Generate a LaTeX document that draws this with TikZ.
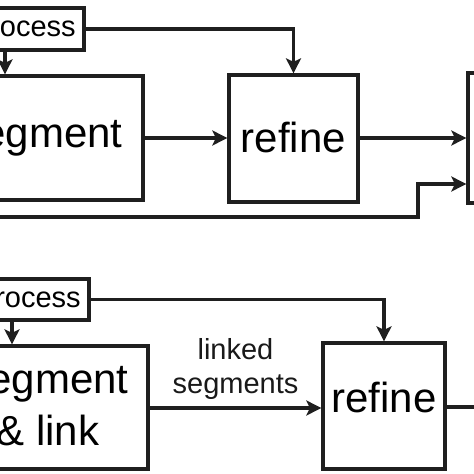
\documentclass[tikz,border=0pt]{standalone}
\usepackage{fontspec}
\setmainfont{Liberation Sans}
\usetikzlibrary{arrows.meta}
\begin{document}
\begin{tikzpicture}[x=1pt,y=-1pt,
  box/.style={draw=black!88,line width=3.3pt,inner sep=0pt,anchor=center},
  big/.style={font=\fontsize{42}{50}\selectfont},
  small/.style={font=\fontsize{29}{34}\selectfont},
  conn/.style={draw=black!88,line width=3.3pt,-{Stealth[length=15pt,width=15pt,inset=3.5pt]}},
  plain/.style={draw=black!88,line width=3.3pt}]
\useasboundingbox (0,0) rectangle (474,474);
\clip (0,0) rectangle (474,474);
% top row
\node[box,small,text depth=0pt,minimum width=160pt,minimum height=42pt] (pp1) at (4,29) {preprocess};
\node[box,big,minimum width=202pt,minimum height=124pt] (seg1) at (42,138) {segment};
\node[box,minimum width=129pt,minimum height=127pt] (ref1) at (293.5,138.5) {};
\node[big] (ref1t) at (293.5,137) {refine};
\node[box,minimum width=92pt,minimum height=130pt] (out1) at (514,138) {};
\coordinate (in1) at (-20,217);
\draw[conn] (pp1.south -| 5,0) -- (seg1.north -| 5,0);
\draw[conn] (seg1.east |- 0,138) -- (ref1.west |- 0,138);
\draw[conn] (pp1.east) -| (ref1.north);
\draw[conn] (ref1.east |- 0,138) -- (out1.west |- 0,138);
\draw[conn] (in1) -- (418,217) |- (out1.west |- 0,184);
% bottom row
\node[box,small,text depth=0pt,minimum width=160pt,minimum height=41pt] (pp2) at (9,299.5) {preprocess};
\node[box,minimum width=200pt,minimum height=123pt] (seg2) at (48,407.5) {};
\node[big,align=center] (seg2t) at (48,406) {segment\\[2pt]\& link};
\node[box,minimum width=122pt,minimum height=126pt] (ref2) at (384,406) {};
\node[big] (ref2t) at (384,397) {refine};
\coordinate (out2) at (480,407);
\draw[conn] (pp2.south -| 12,0) -- (seg2.north -| 12,0);
\draw[conn] (seg2.east |- 0,408) -- node[small,above=4pt,align=center,text=black!90]{linked\\segments} (ref2.west |- 0,408);
\draw[conn] (pp2.east) -| (ref2.north);
\draw[plain] (ref2.east |- 0,407) -- (out2);
\end{tikzpicture}
\end{document}
